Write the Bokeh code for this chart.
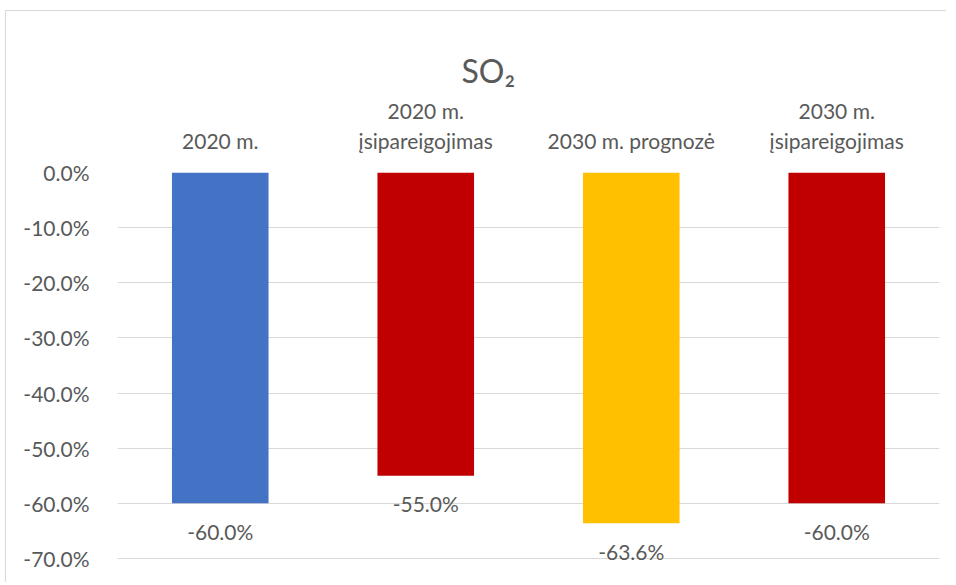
from bokeh.plotting import figure
from bokeh.models import ColumnDataSource, FactorRange, Range1d, NumeralTickFormatter, LabelSet, FixedTicker
from bokeh.core.properties import value
from bokeh.embed import file_html
from bokeh.resources import INLINE

categories = ["2020 m.", "2020 m.\n\u012fsipareigojimas", "2030 m. prognoz\u0117", "2030 m.\n\u012fsipareigojimas"]
values = [-0.600, -0.550, -0.636, -0.600]
labels = ["-60.0%", "-55.0%", "-63.6%", "-60.0%"]
colors = ["#4472C4", "#C00000", "#FFC000", "#C00000"]
y_ticks = [0.0, -0.1, -0.2, -0.3, -0.4, -0.5, -0.6, -0.7]

FONT = "Lato"
TXT = "#595959"
source = ColumnDataSource(dict(cat=categories, val=values, lab=labels, color=colors))

p = figure(width=941, height=572, x_range=FactorRange(*categories, range_padding=0),
           y_range=Range1d(-0.72, 0.0), x_axis_location="above",
           output_backend="svg", toolbar_location=None,
           min_border_left=111, min_border_right=8, min_border_top=161, min_border_bottom=14,
           styles={"border-top": "1px solid #d9d9d9", "border-left": "1px solid #d9d9d9",
                   "margin-left": "5px", "margin-top": "10px"})

p.vbar(x="cat", top=0, bottom="val", width=0.47, color="color", source=source, line_color=None)

p.add_layout(LabelSet(x="cat", y="val", text="lab", source=source, y_offset=-28,
                      text_align="center", text_baseline="middle",
                      text_font=value(FONT), text_font_size=value("21px"), text_color=value(TXT)))

p.title.text = "SO\u2082"
p.title.align = "left"
p.title.offset = 344
p.title.vertical_align = "middle"
p.title.text_font = FONT
p.title.text_font_size = "32px"
p.title.text_font_style = "normal"
p.title.text_color = TXT

p.outline_line_color = None
p.xgrid.grid_line_color = None
p.ygrid.grid_line_color = "#d9d9d9"
p.ygrid.ticker = FixedTicker(ticks=y_ticks)

p.yaxis.ticker = FixedTicker(ticks=y_ticks)
p.yaxis.formatter = NumeralTickFormatter(format="0.0%")
p.yaxis.axis_line_color = None
p.yaxis.major_tick_line_color = None
p.yaxis.minor_tick_line_color = None
p.yaxis.major_label_standoff = 22
p.yaxis.major_label_text_font = FONT
p.yaxis.major_label_text_font_size = "21px"
p.yaxis.major_label_text_color = TXT

p.xaxis.axis_line_color = None
p.xaxis.major_tick_line_color = None
p.xaxis.minor_tick_line_color = None
p.xaxis.major_label_standoff = 14
p.xaxis.major_label_text_font = FONT
p.xaxis.major_label_text_font_size = "21px"
p.xaxis.major_label_text_line_height = 1.17
p.xaxis.major_label_text_color = TXT

p.background_fill_color = "white"
p.border_fill_color = "white"

open("out.html", "w").write(file_html(p, INLINE))
